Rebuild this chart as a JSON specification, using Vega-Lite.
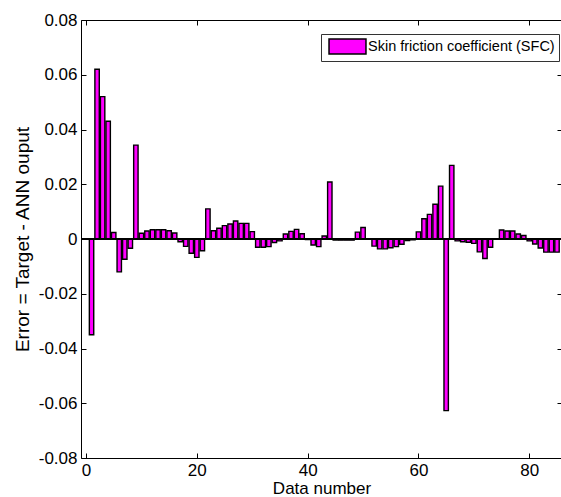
{
  "$schema": "https://vega.github.io/schema/vega-lite/v6.json",
  "width": 481,
  "height": 438,
  "autosize": "none",
  "padding": {"left": 81, "top": 20, "right": 0, "bottom": 39},
  "background": "white",
  "config": {
    "font": "Liberation Sans",
    "view": {"stroke": "black", "strokeWidth": 1},
    "axis": {
      "grid": false,
      "domain": false,
      "tickColor": "black",
      "tickSize": -5,
      "tickWidth": 1,
      "labelColor": "black",
      "labelFont": "Liberation Sans",
      "labelFontSize": 17,
      "titleColor": "black",
      "titleFont": "Liberation Sans",
      "titleFontWeight": "normal",
      "titleFontSize": 17
    }
  },
  "data": {
    "values": [
      {"n": 1, "err": -0.035}, {"n": 2, "err": 0.062}, {"n": 3, "err": 0.052}, {"n": 4, "err": 0.043},
      {"n": 5, "err": 0.0024}, {"n": 6, "err": -0.012}, {"n": 7, "err": -0.0074}, {"n": 8, "err": -0.0034},
      {"n": 9, "err": 0.0343}, {"n": 10, "err": 0.0021}, {"n": 11, "err": 0.0029}, {"n": 12, "err": 0.0034},
      {"n": 13, "err": 0.0034}, {"n": 14, "err": 0.0034}, {"n": 15, "err": 0.003}, {"n": 16, "err": 0.0022},
      {"n": 17, "err": -0.001}, {"n": 18, "err": -0.0027}, {"n": 19, "err": -0.0052}, {"n": 20, "err": -0.0067},
      {"n": 21, "err": -0.0043}, {"n": 22, "err": 0.011}, {"n": 23, "err": 0.003}, {"n": 24, "err": 0.0039},
      {"n": 25, "err": 0.0049}, {"n": 26, "err": 0.0055}, {"n": 27, "err": 0.0066}, {"n": 28, "err": 0.0057},
      {"n": 29, "err": 0.0057}, {"n": 30, "err": 0.0027}, {"n": 31, "err": -0.003}, {"n": 32, "err": -0.003},
      {"n": 33, "err": -0.0028}, {"n": 34, "err": -0.0013}, {"n": 35, "err": -0.0007}, {"n": 36, "err": 0.0018},
      {"n": 37, "err": 0.0028}, {"n": 38, "err": 0.0035}, {"n": 39, "err": 0.0019}, {"n": 40, "err": -0.0002},
      {"n": 41, "err": -0.0022}, {"n": 42, "err": -0.0028}, {"n": 43, "err": 0.0011}, {"n": 44, "err": 0.0208},
      {"n": 45, "err": -0.0004}, {"n": 46, "err": -0.0004}, {"n": 47, "err": -0.0004}, {"n": 48, "err": -0.0004},
      {"n": 49, "err": 0.0025}, {"n": 50, "err": 0.0042}, {"n": 51, "err": -0.0001}, {"n": 52, "err": -0.0026},
      {"n": 53, "err": -0.0036}, {"n": 54, "err": -0.0036}, {"n": 55, "err": -0.0032}, {"n": 56, "err": -0.0028},
      {"n": 57, "err": -0.0019}, {"n": 58, "err": -0.0006}, {"n": 59, "err": -0.0003}, {"n": 60, "err": 0.0026},
      {"n": 61, "err": 0.0074}, {"n": 62, "err": 0.009}, {"n": 63, "err": 0.0127}, {"n": 64, "err": 0.0193},
      {"n": 65, "err": -0.0627}, {"n": 66, "err": 0.0269}, {"n": 67, "err": -0.0007}, {"n": 68, "err": -0.001},
      {"n": 69, "err": -0.0012}, {"n": 70, "err": -0.0016}, {"n": 71, "err": -0.0047}, {"n": 72, "err": -0.0071},
      {"n": 73, "err": -0.003}, {"n": 74, "err": 0.0001}, {"n": 75, "err": 0.0033}, {"n": 76, "err": 0.0029},
      {"n": 77, "err": 0.0029}, {"n": 78, "err": 0.0018}, {"n": 79, "err": 0.0013}, {"n": 80, "err": -0.0007},
      {"n": 81, "err": -0.0018}, {"n": 82, "err": -0.0033}, {"n": 83, "err": -0.0048}, {"n": 84, "err": -0.0048},
      {"n": 85, "err": -0.0048}
    ]
  },
  "layer": [
    {
      "mark": {"type": "bar", "width": 4.4, "stroke": "black", "strokeWidth": 1.4, "clip": true},
      "encoding": {
        "x": {
          "field": "n", "type": "quantitative",
          "scale": {"domain": [0, 85], "nice": false, "zero": false},
          "axis": {"orient": "bottom", "values": [0, 20, 40, 60, 80], "format": "d", "labelPadding": 9, "title": "Data number", "titlePadding": 2}
        },
        "y": {
          "field": "err", "type": "quantitative",
          "scale": {"domain": [-0.08, 0.08], "nice": false},
          "axis": {
            "orient": "left",
            "values": [-0.08, -0.06, -0.04, -0.02, 0, 0.02, 0.04, 0.06, 0.08],
            "labelExpr": "datum.value == 0 ? '0' : (datum.value < 0 ? '-' + format(-datum.value, '.2f') : format(datum.value, '.2f'))",
            "labelPadding": 9,
            "title": "Error = Target - ANN ouput",
            "titleFontSize": 19,
            "titlePadding": 6
          }
        },
        "fill": {
          "datum": "Skin friction coefficient (SFC)",
          "type": "nominal",
          "scale": {"range": ["#ff00ff"]},
          "legend": {
            "title": null,
            "orient": "none",
            "legendX": 240,
            "legendY": 14,
            "padding": 3.5,
            "strokeColor": "#333333",
            "fillColor": "white",
            "symbolType": "M-2.31,-0.94H2.31V0.94H-2.31Z",
            "symbolSize": 256,
            "symbolOffset": 14,
            "symbolStrokeColor": "black",
            "symbolStrokeWidth": 1.5,
            "symbolOpacity": 1,
            "labelOffset": 11.5,
            "labelFont": "Liberation Sans",
            "labelFontSize": 14.5,
            "labelColor": "black",
            "labelLimit": 400
          }
        }
      }
    },
    {
      "mark": {"type": "rule", "color": "black", "strokeWidth": 1},
      "encoding": {"y": {"datum": 0, "type": "quantitative", "axis": null}}
    },
    {
      "mark": {"type": "point", "opacity": 0},
      "encoding": {
        "x": {"field": "n", "type": "quantitative", "axis": {"orient": "top", "values": [0, 20, 40, 60, 80], "labels": false, "title": null}},
        "y": {"field": "err", "type": "quantitative", "axis": {"orient": "right", "values": [-0.08, -0.06, -0.04, -0.02, 0, 0.02, 0.04, 0.06, 0.08], "labels": false, "title": null}}
      }
    }
  ],
  "resolve": {"axis": {"x": "independent", "y": "independent"}}
}
